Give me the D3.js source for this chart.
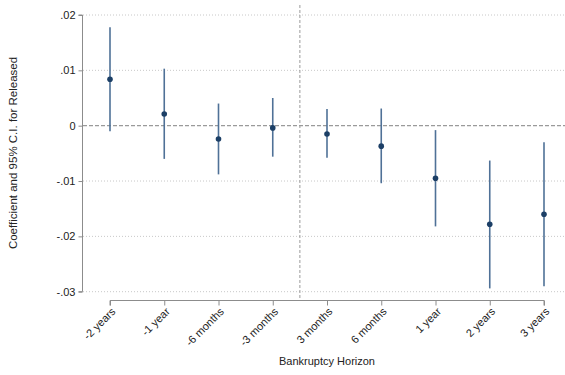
<!DOCTYPE html>
<html>
<head>
<meta charset="utf-8">
<script src="https://cdn.jsdelivr.net/npm/d3@7"></script>
<style>
  html, body { margin: 0; padding: 0; background: #fff; }
  svg { display: block; font-family: "Liberation Sans", Arial, sans-serif; }
</style>
</head>
<body>
<svg id="chart" width="565" height="375"></svg>
<script>
// Event-study coefficients with 95% confidence intervals
const horizons = ["-2 years", "-1 year", "-6 months", "-3 months", "3 months", "6 months", "1 year", "2 years", "3 years"];
const coef  = [0.0084, 0.0021, -0.0024, -0.0004, -0.0015, -0.0037, -0.0095, -0.0178, -0.0160];
const ciLow = [-0.0010, -0.0060, -0.0088, -0.0056, -0.0058, -0.0104, -0.0182, -0.0294, -0.0290];
const ciHigh = [0.0178, 0.0103, 0.0040, 0.0050, 0.0030, 0.0031, -0.0008, -0.0063, -0.0030];
const yTicks = [0.02, 0.01, 0, -0.01, -0.02, -0.03];
const yTickLabels = [".02", ".01", "0", "-.01", "-.02", "-.03"];
const eventBreak = 4.5; // between -3 months and 3 months

const svg = d3.select("#chart");

const plot = { left: 83, right: 565, top: 5, bottom: 300 };

const x = d3.scaleLinear().domain([1, 9]).range([110, 544]);
const y = d3.scaleLinear().domain([-0.03, 0.02]).range([291.7, 15]);

// horizontal dotted gridlines
svg.append("g").selectAll("line")
  .data(yTicks.filter(t => t !== 0))
  .join("line")
  .attr("x1", plot.left).attr("x2", plot.right - 1)
  .attr("y1", d => y(d)).attr("y2", d => y(d))
  .attr("stroke", "#c8c8c8").attr("stroke-width", 1)
  .attr("stroke-dasharray", "1,2");

// zero reference line
svg.append("line")
  .attr("x1", plot.left).attr("x2", plot.right)
  .attr("y1", y(0)).attr("y2", y(0))
  .attr("stroke", "#9a9a9a").attr("stroke-width", 1.2)
  .attr("stroke-dasharray", "4,2");

// vertical line marking the event
svg.append("line")
  .attr("x1", x(eventBreak)).attr("x2", x(eventBreak))
  .attr("y1", plot.top).attr("y2", plot.bottom)
  .attr("stroke", "#9a9a9a").attr("stroke-width", 1)
  .attr("stroke-dasharray", "3,2");

// y axis
const yAxis = d3.axisLeft(y)
  .tickValues(yTicks)
  .tickFormat((d, i) => yTickLabels[i])
  .tickSize(4).tickPadding(3);
const gy = svg.append("g").attr("transform", `translate(${plot.left - 0.5},0)`).call(yAxis);
gy.select(".domain").attr("stroke", "#8c8c8c").attr("d", `M-4,${y(0.02)}H0V${y(-0.03)}H-4`);
gy.selectAll(".tick line").attr("stroke", "#8c8c8c");
gy.selectAll("text").attr("font-size", 11).attr("fill", "#222")
  .attr("font-family", "Liberation Sans, Arial, sans-serif");

// x axis
const xAxis = d3.axisBottom(x)
  .tickValues(d3.range(1, 10))
  .tickFormat(i => horizons[i - 1])
  .tickSize(5).tickPadding(2);
const gx = svg.append("g").attr("transform", `translate(0,${plot.bottom + 0.5})`).call(xAxis);
gx.select(".domain").attr("stroke", "#8c8c8c").attr("d", `M${x(1)},5V0H${x(9)}V5`);
gx.selectAll(".tick line").attr("stroke", "#8c8c8c");
gx.selectAll("text")
  .attr("font-size", 11).attr("fill", "#222")
  .attr("font-family", "Liberation Sans, Arial, sans-serif")
  .attr("text-anchor", "end")
  .attr("y", 0)
  .attr("dy", "0.35em")
  .attr("transform", "translate(3,9) rotate(-45)");

// confidence intervals
svg.append("g").selectAll("line")
  .data(d3.range(9))
  .join("line")
  .attr("x1", i => x(i + 1)).attr("x2", i => x(i + 1))
  .attr("y1", i => y(ciLow[i])).attr("y2", i => y(ciHigh[i]))
  .attr("stroke", "#4f7197").attr("stroke-width", 1.6);

// point estimates
svg.append("g").selectAll("circle")
  .data(d3.range(9))
  .join("circle")
  .attr("cx", i => x(i + 1)).attr("cy", i => y(coef[i]))
  .attr("r", 2.8)
  .attr("fill", "#1c3f66");

// axis titles
svg.append("text")
  .attr("x", 327).attr("y", 365)
  .attr("text-anchor", "middle")
  .attr("font-size", 11).attr("fill", "#222")
  .text("Bankruptcy Horizon");

svg.append("text")
  .attr("transform", "translate(17,153) rotate(-90)")
  .attr("text-anchor", "middle")
  .attr("font-size", 11.5).attr("fill", "#222")
  .text("Coefficient and 95% C.I. for Released");
</script>
</body>
</html>
